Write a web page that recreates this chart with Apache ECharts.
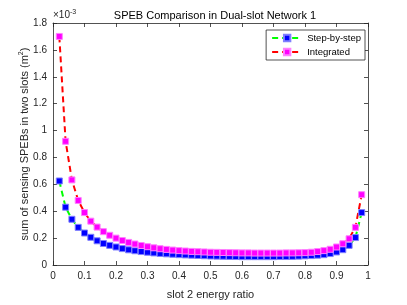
<!DOCTYPE html>
<html><head><meta charset="utf-8">
<script src="https://cdn.jsdelivr.net/npm/echarts@6/dist/echarts.min.js"></script>
<style>html,body{margin:0;padding:0;background:#fff}#c{width:407px;height:305px}</style>
</head><body><div id="c"></div>
<script>
const ratios = [0.02,0.04,0.06,0.08,0.10,0.12,0.14,0.16,0.18,0.20,0.22,0.24,0.26,0.28,0.30,0.32,0.34,0.36,0.38,0.40,0.42,0.44,0.46,0.48,0.50,0.52,0.54,0.56,0.58,0.60,0.62,0.64,0.66,0.68,0.70,0.72,0.74,0.76,0.78,0.80,0.82,0.84,0.86,0.88,0.90,0.92,0.94,0.96,0.98];
const stepByStep = [0.625,0.43,0.34,0.28,0.238,0.206,0.18,0.16,0.146,0.134,0.122,0.113,0.106,0.1,0.095,0.09,0.086,0.083,0.08,0.077,0.075,0.073,0.071,0.069,0.067,0.066,0.065,0.064,0.063,0.062,0.062,0.062,0.062,0.062,0.062,0.063,0.063,0.064,0.066,0.068,0.07,0.073,0.077,0.085,0.097,0.114,0.146,0.204,0.39];
const integrated = [1.7,0.92,0.633,0.48,0.39,0.326,0.282,0.248,0.221,0.2,0.182,0.168,0.156,0.145,0.136,0.128,0.121,0.116,0.111,0.107,0.104,0.101,0.099,0.097,0.095,0.094,0.093,0.092,0.091,0.09,0.09,0.089,0.089,0.089,0.089,0.089,0.09,0.09,0.091,0.092,0.095,0.1,0.107,0.117,0.134,0.158,0.195,0.28,0.523];
const seriesNames = ['Step-by-step','Integrated'];
const titleText = 'SPEB Comparison in Dual-slot Network 1';
const xName = 'slot 2 energy ratio';

const font = 'Liberation Sans, Arial, sans-serif';
const axisCol = '#262626';
const pair = (a) => ratios.map((x,i)=>[x,a[i]]);
const chart = echarts.init(document.getElementById('c'), null, {renderer:'canvas'});
const baseX = {type:'value',min:0,max:1,interval:0.1,
  axisLine:{show:true,onZero:false,lineStyle:{color:axisCol,width:0.8}},
  axisTick:{show:true,inside:true,length:4,lineStyle:{color:axisCol,width:0.8}},
  splitLine:{show:false}};
const baseY = {type:'value',min:0,max:1.8,interval:0.2,
  axisLine:{show:true,onZero:false,lineStyle:{color:axisCol,width:0.8}},
  axisTick:{show:true,inside:true,length:4,lineStyle:{color:axisCol,width:0.8}},
  splitLine:{show:false}};
chart.setOption({
  animation:false,
  backgroundColor:'#fff',
  title:{text:titleText,left:210,textAlign:'center',top:5,
    textStyle:{fontFamily:font,fontSize:11,fontWeight:'normal',color:'#000'}},
  grid:{left:53,right:39,top:23,bottom:35},
  graphic:[{type:'text',left:53,top:9,style:{
    text:'×10{s|-3}',font:'10px '+font,fill:'#262626',
    rich:{s:{fontSize:7,verticalAlign:'top',fontFamily:font,fill:'#262626',padding:[0,0,6,0]}}}}],
  legend:{orient:'vertical',right:42,top:30,data:seriesNames,
    backgroundColor:'#fff',borderColor:'#262626',borderWidth:0.8,padding:[3,4,3,5],
    itemWidth:30,itemHeight:8,itemGap:4,
    textStyle:{fontFamily:font,fontSize:9.5,color:'#000'}},
  xAxis:[Object.assign({},baseX,{position:'bottom',
      name:xName,nameLocation:'middle',nameGap:24,nameMoveOverlap:false,
      nameTextStyle:{fontFamily:font,fontSize:11,color:'#262626'},
      axisLabel:{fontFamily:font,fontSize:10,color:'#262626',margin:6,
        formatter:v=>String(Math.round(v*10)/10)}}),
    Object.assign({},baseX,{position:'top',axisLabel:{show:false}})],
  yAxis:[Object.assign({},baseY,{position:'left',
      name:'sum of sensing SPEBs in two slots (m{s|2})',nameLocation:'middle',nameGap:22,nameMoveOverlap:false,
      nameTextStyle:{fontFamily:font,fontSize:11,color:'#262626',
        rich:{s:{fontSize:7,verticalAlign:'top',fontFamily:font,color:'#262626',padding:[0,0,6,0]}}},
      axisLabel:{fontFamily:font,fontSize:10,color:'#262626',margin:6,
        formatter:v=>String(Math.round(v*10)/10)}}),
    Object.assign({},baseY,{position:'right',axisLabel:{show:false}})],
  series:[
    {name:seriesNames[0],type:'line',data:pair(stepByStep),symbol:'rect',symbolSize:6,showSymbol:true,
      lineStyle:{color:'#00ff00',width:2,type:[6,4]},
      itemStyle:{color:'#0000ff',borderColor:'#7f7fff',borderWidth:1}},
    {name:seriesNames[1],type:'line',data:pair(integrated),symbol:'rect',symbolSize:6,showSymbol:true,
      lineStyle:{color:'#ff0000',width:2,type:[6,4]},
      itemStyle:{color:'#ff00ff',borderColor:'#ff7fff',borderWidth:1}}
  ]
});
</script></body></html>
